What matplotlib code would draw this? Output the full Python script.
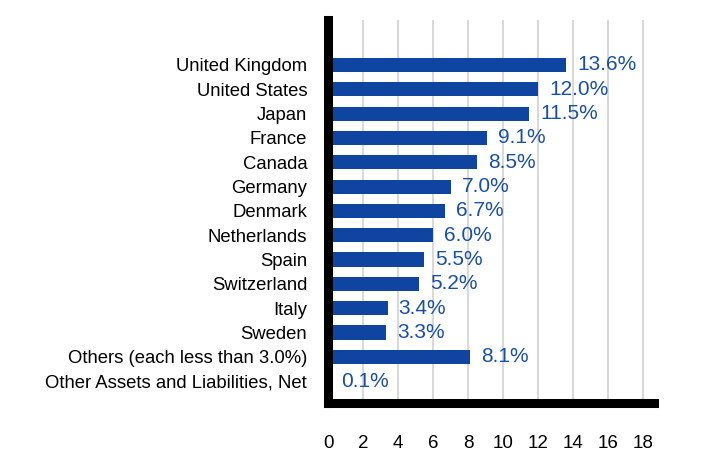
import matplotlib
matplotlib.use("Agg")
import matplotlib.pyplot as plt

plt.rcParams["font.family"] = ["Liberation Sans", "DejaVu Sans"]

countries = [
    "United Kingdom", "United States", "Japan", "France", "Canada",
    "Germany", "Denmark", "Netherlands", "Spain", "Switzerland",
    "Italy", "Sweden", "Others (each less than 3.0%)",
    "Other Assets and Liabilities, Net",
]
weights = [13.6, 12.0, 11.5, 9.1, 8.5, 7.0, 6.7, 6.0, 5.5, 5.2, 3.4, 3.3, 8.1, 0.1]
x_ticks = [0, 2, 4, 6, 8, 10, 12, 14, 16, 18]

BAR = "#0F45A0"
TXT = "#1A4FA0"

fig = plt.figure(figsize=(7.08, 4.68), dpi=100)
ax = fig.add_axes([328 / 708, 1 - 403 / 468, 325.5 / 708, 383 / 468])

ypos = list(range(len(countries)))
ax.barh(ypos, weights, height=0.58, color=BAR, zorder=3)
for y, w in zip(ypos, weights):
    ax.annotate(f"{w:.1f}%", (w, y), xytext=(8, 0), textcoords="offset points",
                va="center", ha="left", fontsize=15, color=TXT, zorder=4)

ax.set_xlim(0, 18.6)
ax.set_ylim(13.9, -1.85)
ax.set_xticks(x_ticks)
ax.set_yticks(ypos)
ax.set_yticklabels(countries)
ax.tick_params(axis="x", length=0, pad=23, labelsize=13.5)
ax.tick_params(axis="y", length=0, pad=15, labelsize=13.3)

ax.grid(axis="x", color="#d9d9d9", linewidth=1.5, zorder=0)
ax.set_axisbelow(True)
for s in ["top", "right"]:
    ax.spines[s].set_visible(False)
for s in ["left", "bottom"]:
    ax.spines[s].set_linewidth(6.5)
    ax.spines[s].set_color("black")
    ax.spines[s].set_capstyle("projecting")
    ax.spines[s].set_zorder(5)

fig.savefig("out.png", dpi=100)
